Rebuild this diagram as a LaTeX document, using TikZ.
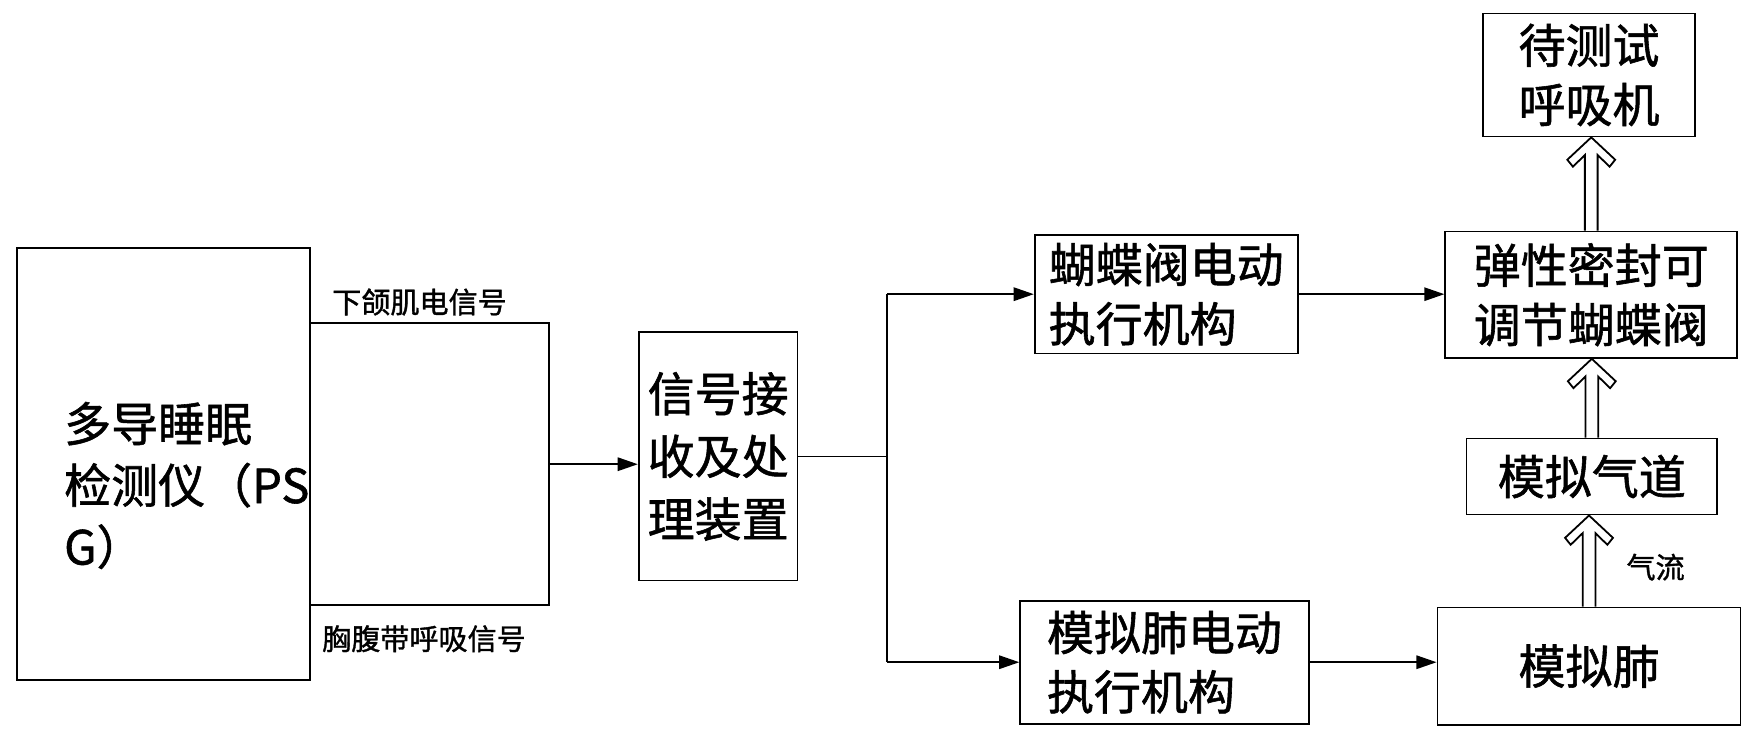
\documentclass[tikz,border=0pt]{standalone}
\usepackage{fontspec}
\setmainfont{Noto Sans CJK SC}[FakeBold=1.2]
\usetikzlibrary{arrows.meta,calc}
\newcommand\dblup[2]{%
  \draw[dbl] let \p1=(#1.north), \p2=(#2.south) in
    (\x1-2.85pt,\y1) -- (\x1-2.85pt,\y2-7.9pt) -- (\x1-8.2pt,\y2-13.1pt) -- (\x1-10.7pt,\y2-10pt)
    -- (\x1,\y2) -- (\x1+10.7pt,\y2-10pt) -- (\x1+8.2pt,\y2-13.1pt) -- (\x1+2.85pt,\y2-7.9pt) -- (\x1+2.85pt,\y1);}
\begin{document}
\begin{tikzpicture}[x=0.5pt,y=-0.5pt,
  box/.style={draw, line width=0.8pt, inner sep=0pt, font=\fontsize{21}{26.5}\selectfont, align=center},
  txt/.style={inner sep=0pt, font=\fontsize{21}{27.5}\selectfont, align=left},
  lbl/.style={font=\fontsize{13}{15}\selectfont, inner sep=0pt},
  conn/.style={line width=0.8pt},
  arr/.style={conn, -{Triangle[length=9pt,width=6pt]}},
  dbl/.style={line width=0.8pt, line join=miter}
]
\useasboundingbox (0,0) rectangle (1568,662.4);
% boxes
\node[box, minimum width=131pt, minimum height=193pt] (psg) at (146,415) {};
\node[txt, anchor=west] (psgtext) at (57,434) {多导睡眠\\检测仪（PS\\G）};
\node[box, minimum width=71pt, minimum height=111pt, font=\fontsize{21}{28}\selectfont] (sig) at (642,408) {信号接\\收及处\\理装置};
\node[box, minimum width=117.5pt, minimum height=53pt, align=left] (but1) at (1042.5,263) {蝴蝶阀电动\\执行机构};
\node[box, minimum width=129pt, minimum height=55pt, align=left] (lungact) at (1041,592) {模拟肺电动\\执行机构};
\node[box, minimum width=130.5pt, minimum height=56.5pt] (valve) at (1422.5,263.5) {弹性密封可\\调节蝴蝶阀};
\node[box, minimum width=112pt, minimum height=34pt] (airway) at (1423,426) {模拟气道};
\node[box, minimum width=94.5pt, minimum height=55pt] (vent) at (1420.5,67) {待测试\\呼吸机};
\node[box, minimum width=135.5pt, minimum height=52.5pt] (lung) at (1420.5,595.5) {模拟肺};
% labels
\node[lbl] (l1) at (375,270) {下颌肌电信号};
\node[lbl] (l2) at (379,571) {胸腹带呼吸信号};
\node[lbl] (flow) at (1480,507) {气流};
% bracket
\coordinate (brT) at (491,289);
\coordinate (brB) at (491,541);
\coordinate (brM) at (491,415);
\draw[conn] (psg.east |- brT) -- (brT) -- (brB) -- (psg.east |- brB);
\draw[arr] (brM) -- (sig.west |- brM);
% split
\coordinate (split) at (793,408);
\draw[conn] (sig.east |- split) -- (split);
\draw[conn] (split |- but1.west) -- (split |- lungact.west);
\draw[arr] (split |- but1.west) -- (but1.west);
\draw[arr] (split |- lungact.west) -- (lungact.west);
\draw[arr] (but1.east) -- (valve.west |- but1.east);
\draw[arr] (lungact.east) -- (lung.west |- lungact.east);
% air flow
\dblup{lung}{airway}
\dblup{airway}{valve}
\dblup{valve}{vent}
\end{tikzpicture}
\end{document}
